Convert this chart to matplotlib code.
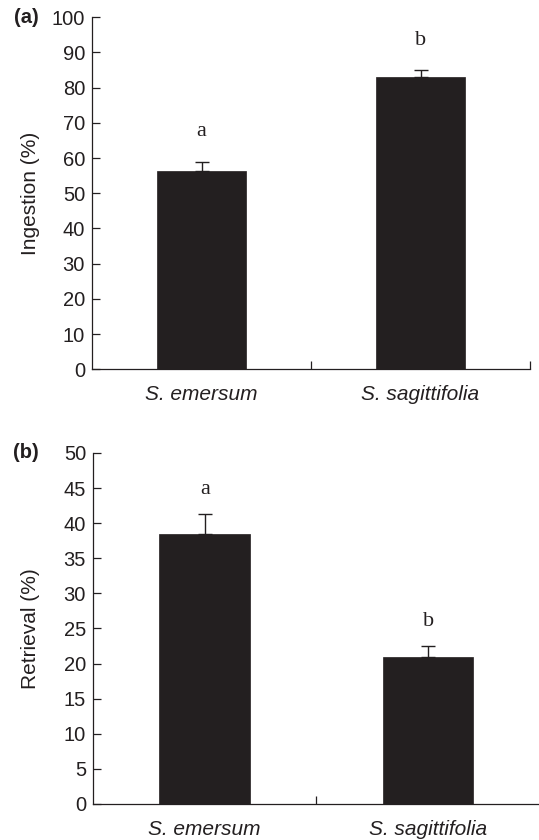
import matplotlib
matplotlib.use("Agg")
import matplotlib.pyplot as plt

categories = ["S. emersum", "S. sagittifolia"]
ingestion = [56.4, 83.0]
ingestion_err = [2.6, 2.0]
ingestion_letters = ["a", "b"]
retrieval = [38.5, 21.0]
retrieval_err = [2.8, 1.5]
retrieval_letters = ["a", "b"]

ink = "#231f20"
plt.rcParams["font.family"] = ["Liberation Sans", "DejaVu Sans"]

fig = plt.figure(figsize=(5.39, 8.40), dpi=100)
ax_a = fig.add_axes([0.1707, 0.5604, 0.8126, 0.419])
ax_b = fig.add_axes([0.1725, 0.0429, 0.8293, 0.4179])

def draw(ax, vals, errs, letters, ylim, step, ylabel, letter_off, panel, panel_x):
    x = list(range(len(categories)))
    ax.bar(x, vals, width=0.405, color=ink, edgecolor=ink, linewidth=0.5, zorder=2)
    ax.errorbar(x, vals, yerr=[[0] * len(errs), errs], fmt="none", ecolor=ink,
                elinewidth=1.0, capsize=5, capthick=1.0, zorder=3)
    for xi, v, e, l in zip(x, vals, errs, letters):
        ax.text(xi, v + e + letter_off, l, ha="center", va="center",
                family=["Liberation Serif", "DejaVu Serif"], fontsize=16, color=ink)
    ax.set_xlim(-0.5, 1.5)
    ax.set_ylim(0, ylim)
    ax.set_yticks([i * step for i in range(int(ylim / step) + 1)])
    ax.set_xticks(x)
    ax.set_xticklabels(categories, fontstyle="italic", fontsize=15, color=ink)
    ax.set_xticks([0.5, 1.5], minor=True)
    ax.tick_params(axis="x", which="major", length=0, pad=11.5)
    ax.tick_params(axis="x", which="minor", direction="in", length=6, width=0.9, color=ink)
    ax.tick_params(axis="y", direction="in", length=6, width=0.9, color=ink,
                   labelsize=14.5, labelcolor=ink, pad=5)
    for s in ["top", "right"]:
        ax.spines[s].set_visible(False)
    for s in ["left", "bottom"]:
        ax.spines[s].set_color(ink)
        ax.spines[s].set_linewidth(0.9)
    ax.set_ylabel(ylabel, fontsize=15, color=ink)
    ax.yaxis.set_label_coords(-0.118, 0.5)
    ax.text(panel_x, 1.0, panel, transform=ax.transAxes, ha="left", va="center",
            fontsize=14.5, fontweight="bold", color=ink)

draw(ax_a, ingestion, ingestion_err, ingestion_letters, 100, 10, "Ingestion (%)", 8.5, "(a)", (14 - 92) / 438)
draw(ax_b, retrieval, retrieval_err, retrieval_letters, 50, 5, "Retrieval (%)", 3.5, "(b)", (13 - 93) / 447)

fig.savefig("out.png", dpi=100)
